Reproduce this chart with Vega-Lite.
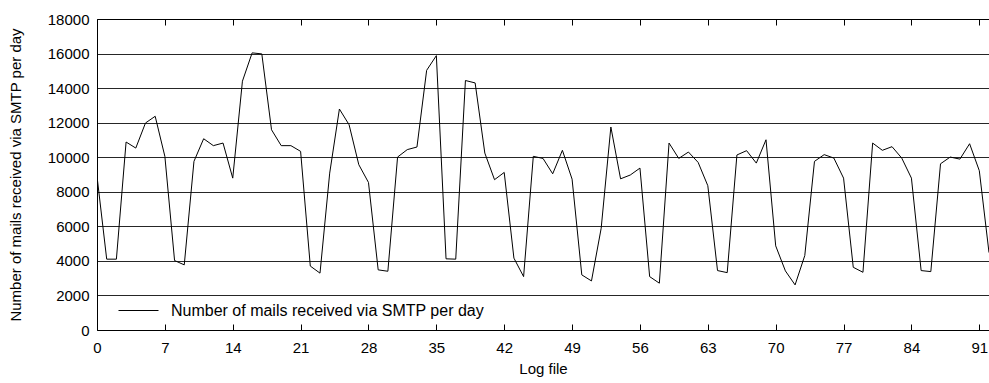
{
  "$schema": "https://vega.github.io/schema/vega-lite/v6.json",
  "autosize": {"type": "none"},
  "width": 892,
  "height": 311,
  "padding": {"left": 97, "top": 19, "right": 0, "bottom": 53},
  "background": "white",
  "config": {
    "font": "Liberation Sans",
    "view": {"stroke": "black", "strokeWidth": 1},
    "axis": {"labelFont": "Liberation Sans", "titleFont": "Liberation Sans", "labelColor": "black", "titleColor": "black", "titleFontWeight": "normal", "labelFontSize": 15, "titleFontSize": 15, "domain": false, "tickColor": "black", "tickOpacity": 1, "labelOverlap": false, "labelFlush": false, "titleLimit": 0}
  },
  "data": {"values": [
    {"x":0,"y":8900},{"x":1,"y":4100},{"x":2,"y":4100},{"x":3,"y":10880},{"x":4,"y":10530},{"x":5,"y":11980},{"x":6,"y":12370},{"x":7,"y":10050},{"x":8,"y":4020},{"x":9,"y":3770},
    {"x":10,"y":9760},{"x":11,"y":11070},{"x":12,"y":10670},{"x":13,"y":10820},{"x":14,"y":8790},{"x":15,"y":14400},{"x":16,"y":16040},{"x":17,"y":15980},{"x":18,"y":11590},{"x":19,"y":10670},
    {"x":20,"y":10670},{"x":21,"y":10340},{"x":22,"y":3700},{"x":23,"y":3290},{"x":24,"y":9080},{"x":25,"y":12790},{"x":26,"y":11880},{"x":27,"y":9570},{"x":28,"y":8540},{"x":29,"y":3480},
    {"x":30,"y":3400},{"x":31,"y":10010},{"x":32,"y":10440},{"x":33,"y":10590},{"x":34,"y":15030},{"x":35,"y":15880},{"x":36,"y":4120},{"x":37,"y":4100},{"x":38,"y":14440},{"x":39,"y":14300},
    {"x":40,"y":10240},{"x":41,"y":8700},{"x":42,"y":9120},{"x":43,"y":4160},{"x":44,"y":3090},{"x":45,"y":10050},{"x":46,"y":9930},{"x":47,"y":9040},{"x":48,"y":10400},{"x":49,"y":8730},
    {"x":50,"y":3190},{"x":51,"y":2840},{"x":52,"y":5890},{"x":53,"y":11750},{"x":54,"y":8750},{"x":55,"y":8970},{"x":56,"y":9370},{"x":57,"y":3090},{"x":58,"y":2710},{"x":59,"y":10820},
    {"x":60,"y":9930},{"x":61,"y":10300},{"x":62,"y":9700},{"x":63,"y":8350},{"x":64,"y":3440},{"x":65,"y":3320},{"x":66,"y":10130},{"x":67,"y":10380},{"x":68,"y":9660},{"x":69,"y":11010},
    {"x":70,"y":4870},{"x":71,"y":3420},{"x":72,"y":2610},{"x":73,"y":4310},{"x":74,"y":9760},{"x":75,"y":10150},{"x":76,"y":9950},{"x":77,"y":8790},{"x":78,"y":3630},{"x":79,"y":3340},
    {"x":80,"y":10820},{"x":81,"y":10400},{"x":82,"y":10610},{"x":83,"y":9950},{"x":84,"y":8790},{"x":85,"y":3440},{"x":86,"y":3380},{"x":87,"y":9620},{"x":88,"y":10010},{"x":89,"y":9890},
    {"x":90,"y":10780},{"x":91,"y":9220},{"x":92,"y":4480}
  ]},
  "layer": [
    {
      "mark": {"type": "line", "strokeWidth": 1, "clip": true},
      "encoding": {
        "x": {"field": "x", "type": "quantitative", "scale": {"domain": [0, 92], "nice": false, "zero": false},
          "axis": {"orient": "bottom", "offset": -6, "values": [0,7,14,21,28,35,42,49,56,63,70,77,84,91], "title": "Log file", "grid": false, "ticks": true, "tickSize": 6, "tickWidth": 1, "labelPadding": 10, "titlePadding": 6}},
        "y": {"field": "y", "type": "quantitative", "scale": {"domain": [0, 18000], "nice": false},
          "axis": {"values": [0,2000,4000,6000,8000,10000,12000,14000,16000,18000], "format": "d", "title": "Number of mails received via SMTP per day", "grid": true, "gridColor": "black", "gridOpacity": 0.85, "gridWidth": 1, "tickSize": 0, "labelPadding": 8, "titlePadding": 24}},
        "color": {"datum": "Number of mails received via SMTP per day", "type": "nominal", "scale": {"range": ["black"]},
          "legend": {"title": null, "orient": "none", "legendX": 21, "legendY": 271, "symbolType": "stroke", "symbolSize": 1600, "symbolStrokeWidth": 1, "labelFontSize": 16, "labelFont": "Liberation Sans", "labelColor": "black", "padding": 0, "labelOffset": 12, "labelLimit": 0}}
      }
    },
    {
      "mark": {"type": "tick", "opacity": 0},
      "encoding": {
        "x": {"field": "x", "type": "quantitative", "scale": {"domain": [0, 92], "nice": false, "zero": false},
          "axis": {"orient": "top", "offset": -6, "values": [0,7,14,21,28,35,42,49,56,63,70,77,84,91], "title": null, "labels": false, "grid": false, "ticks": true, "tickSize": 6, "tickWidth": 1}}
      }
    }
  ],
  "resolve": {"axis": {"x": "independent"}}
}
